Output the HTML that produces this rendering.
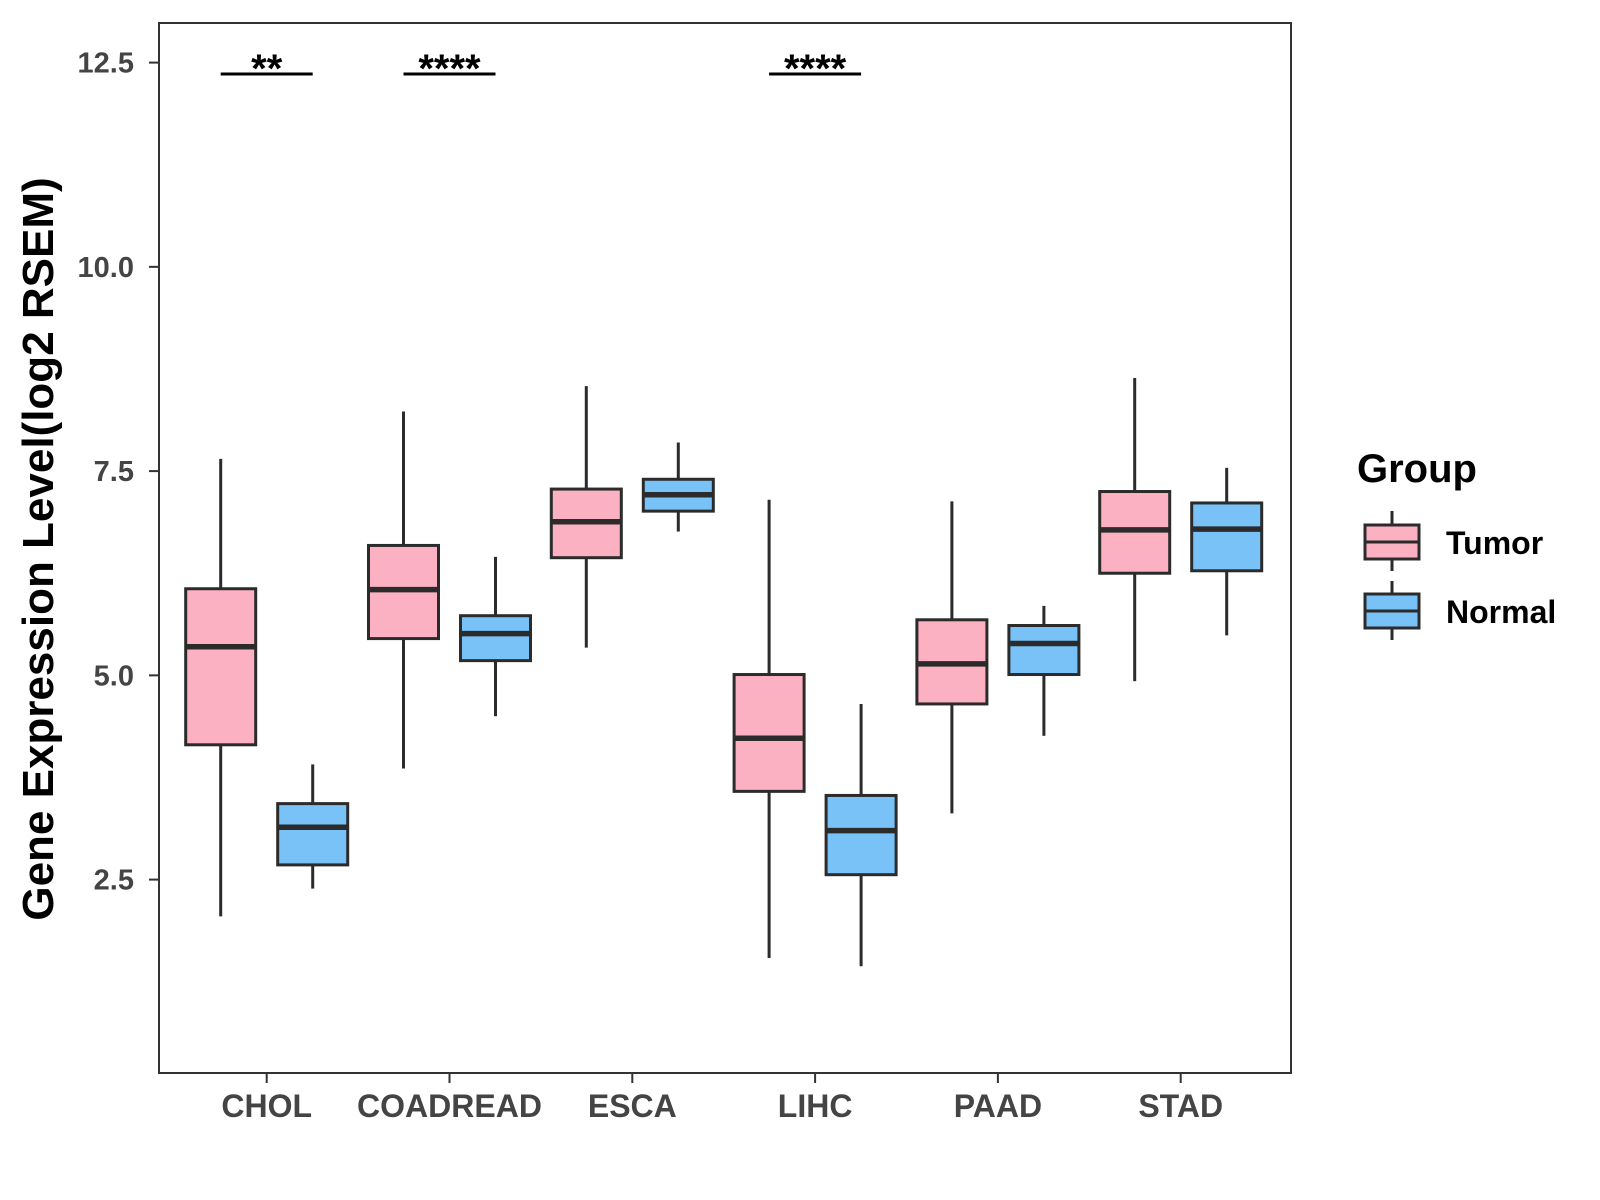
<!DOCTYPE html>
<html><head><meta charset="utf-8"><style>
html,body{margin:0;padding:0;background:#fff;}
svg{display:block;font-family:"Liberation Sans",Arial,sans-serif;}
</style></head><body>
<svg id="chart" width="1600" height="1200" viewBox="0 0 1600 1200" xmlns="http://www.w3.org/2000/svg">
<rect x="0" y="0" width="1600" height="1200" fill="#fff"/>
<g id="marks"></g>
<rect x="159" y="23" width="1132" height="1050" fill="none" stroke="#333" stroke-width="2"/>
<g id="axes"></g>
<text transform="translate(53,549) rotate(-90)" text-anchor="middle" font-size="44" font-weight="bold" fill="#000">Gene Expression Level(log2 RSEM)</text>
<g transform="translate(-7,-3)">
<text x="1364" y="485" font-size="40" font-weight="bold">Group</text>
<g>
<line x1="1399" y1="514" x2="1399" y2="574" stroke="#2b2b2b" stroke-width="3"/>
<rect x="1372" y="528" width="54" height="34" fill="#FCB1C2" stroke="#2b2b2b" stroke-width="3"/>
<line x1="1372" y1="545" x2="1426" y2="545" stroke="#2b2b2b" stroke-width="3"/>
<text x="1453" y="557" font-size="32" font-weight="bold">Tumor</text>
</g>
<g>
<line x1="1399" y1="584" x2="1399" y2="643" stroke="#2b2b2b" stroke-width="3"/>
<rect x="1372" y="597" width="54" height="34" fill="#78C2F8" stroke="#2b2b2b" stroke-width="3"/>
<line x1="1372" y1="614" x2="1426" y2="614" stroke="#2b2b2b" stroke-width="3"/>
<text x="1453" y="626" font-size="32" font-weight="bold">Normal</text>
</g>
</g>
</svg>
<script>
const categories = ["CHOL","COADREAD","ESCA","LIHC","PAAD","STAD"];
// [lowerWhisker, Q1, median, Q3, upperWhisker]
const tumorStats = [
  [2.05,4.15,5.35,6.06,7.65],
  [3.86,5.45,6.05,6.59,8.23],
  [5.34,6.44,6.88,7.28,8.54],
  [1.54,3.58,4.23,5.01,7.15],
  [3.31,4.65,5.14,5.68,7.13],
  [4.93,6.25,6.78,7.25,8.64]
];
const normalStats = [
  [2.39,2.68,3.14,3.43,3.91],
  [4.50,5.18,5.51,5.73,6.45],
  [6.76,7.01,7.21,7.40,7.85],
  [1.44,2.56,3.10,3.53,4.65],
  [4.26,5.01,5.39,5.61,5.85],
  [5.49,6.28,6.79,7.11,7.54]
];
const yTicks = [2.5,5.0,7.5,10.0,12.5];
const yTickLabels = ["2.5","5.0","7.5","10.0","12.5"];
const sigCategories = ["CHOL","COADREAD","LIHC"];
const sigLabels = ["**","****","****"];
const sigLevel = 12.36;

const NS="http://www.w3.org/2000/svg";
function yS(v){return 62.6+(12.5-v)*81.7;}
function xS(i){return 266.7+i*182.8;}
function mk(tag,attrs,parent){const e=document.createElementNS(NS,tag);for(const k in attrs)e.setAttribute(k,attrs[k]);parent.appendChild(e);return e;}
const marks=document.getElementById('marks'), axes=document.getElementById('axes');
const BW=70, DODGE=46;
function drawBox(s,cx,fill,name){
  const g=mk('g',{},marks);
  
  
  mk('line',{x1:cx,x2:cx,y1:yS(s[4]),y2:yS(s[3]),stroke:'#2b2b2b','stroke-width':3},g);
  mk('line',{x1:cx,x2:cx,y1:yS(s[1]),y2:yS(s[0]),stroke:'#2b2b2b','stroke-width':3},g);
  mk('rect',{x:cx-BW/2,y:yS(s[3]),width:BW,height:yS(s[1])-yS(s[3]),fill:fill,stroke:'#2b2b2b','stroke-width':3},g);
  mk('line',{x1:cx-BW/2,x2:cx+BW/2,y1:yS(s[2]),y2:yS(s[2]),stroke:'#2b2b2b','stroke-width':5.5},g);
}
categories.forEach((c,i)=>{
  drawBox(tumorStats[i],xS(i)-DODGE,'#FCB1C2','box-tumor-'+c.toLowerCase());
  drawBox(normalStats[i],xS(i)+DODGE,'#78C2F8','box-normal-'+c.toLowerCase());
  const t=mk('line',{x1:xS(i),x2:xS(i),y1:1073,y2:1083,stroke:'#333','stroke-width':2},axes);
  
  
  const l=mk('text',{x:xS(i),y:1117,'text-anchor':'middle','font-size':32,'font-weight':'bold',fill:'#444'},axes);
  l.textContent=c;
  
  
});
yTicks.forEach((v,i)=>{
  const t=mk('line',{x1:149,x2:159,y1:yS(v),y2:yS(v),stroke:'#333','stroke-width':2},axes);
  
  
  const l=mk('text',{x:134,y:yS(v)+10,'text-anchor':'end','font-size':29,'font-weight':'bold',fill:'#444'},axes);
  l.textContent=yTickLabels[i];
  
  
});
sigCategories.forEach((c,j)=>{
  const i=categories.indexOf(c);
  const y=yS(sigLevel);
  const ln=mk('line',{x1:xS(i)-DODGE,x2:xS(i)+DODGE,y1:y,y2:y,stroke:'#000','stroke-width':3},marks);
  
  
  const tx=mk('text',{x:xS(i),y:y+8,'text-anchor':'middle','font-size':40,'font-weight':'bold',fill:'#000'},marks);
  tx.textContent=sigLabels[j];
  
  
});
</script>
</body></html>
